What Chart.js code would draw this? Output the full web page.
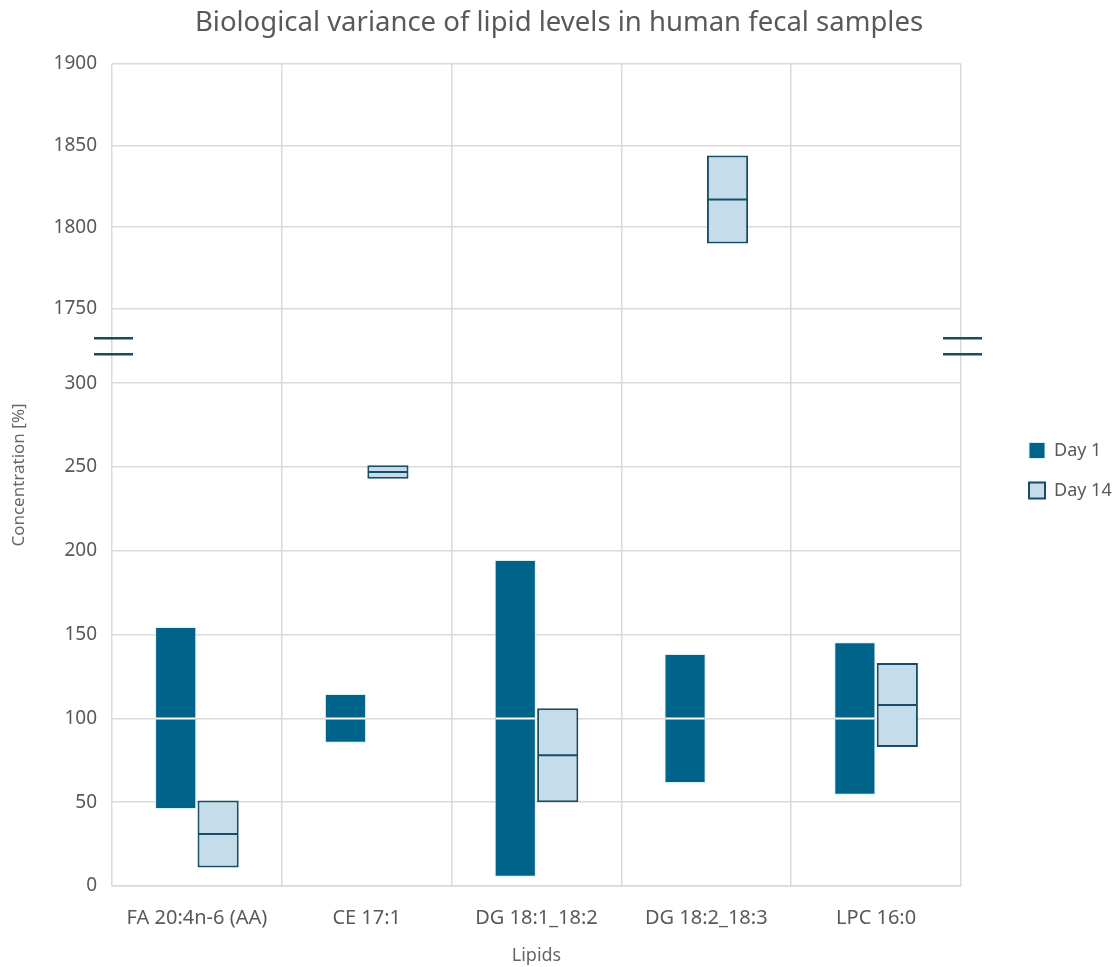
<!DOCTYPE html>
<html>
<head>
<meta charset="utf-8">
<script src="https://cdn.jsdelivr.net/npm/chart.js@4"></script>
<style>
  html, body { margin: 0; padding: 0; background: #fff; }
  #wrap { width: 1118px; height: 967px; }
</style>
</head>
<body>
<div id="wrap"><canvas id="lipidChart" width="1118" height="967"></canvas></div>
<script>
// lipid ranges (min / max / median), concentration in %
const lipids = ['FA 20:4n-6 (AA)', 'CE 17:1', 'DG 18:1_18:2', 'DG 18:2_18:3', 'LPC 16:0'];

const day1Min    = [46, 85.5, 5.5, 61.5, 54.5];
const day1Max    = [154.5, 114.5, 194.5, 138.5, 145.5];
const day1Median = [100, 100, 100, 100, 100];

const day14Min    = [11, 243, 50, 1790, 83];
const day14Max    = [51, 251, 106, 1844, 133];
const day14Median = [31, 247, 78, 1817, 108];

// broken y axis: lower and upper segments
const lowRange  = [0, 322];
const highRange = [1727, 1900];

const DARK  = '#00648a';
const LIGHT = '#c5dcea';
const EDGE  = '#174e66';
const TEXT  = '#595959';
const GRID  = '#dadada';
const FONT  = "'Noto Sans', 'Open Sans', sans-serif";

const inHigh = v => v >= highRange[0];

const day1Data     = lipids.map((_, i) => [day1Min[i], day1Max[i]]);
const day14LowData = lipids.map((_, i) => inHigh(day14Max[i]) ? null : [day14Min[i], day14Max[i]]);
const day14HiData  = lipids.map((_, i) => inHigh(day14Max[i]) ? [day14Min[i], day14Max[i]] : null);

// white / dark median line across each bar
const medianLines = {
  id: 'medianLines',
  afterDatasetsDraw(chart) {
    const ctx = chart.ctx;
    chart.data.datasets.forEach((ds, di) => {
      const meta = chart.getDatasetMeta(di);
      if (!ds.medians || meta.hidden) return;
      meta.data.forEach((bar, i) => {
        if (!ds.data[i]) return;
        const { x, width } = bar.getProps(['x', 'width'], true);
        const y = meta.vScale.getPixelForValue(ds.medians[i]);
        ctx.save();
        ctx.strokeStyle = ds.medianColor;
        ctx.lineWidth = 2;
        ctx.beginPath();
        ctx.moveTo(x - width / 2 + 1, y);
        ctx.lineTo(x + width / 2 - 1, y);
        ctx.stroke();
        ctx.restore();
      });
    });
  }
};

// "=" marks where the axis is broken + shared y title
const axisBreak = {
  id: 'axisBreak',
  afterDraw(chart) {
    const ctx = chart.ctx;
    const area = chart.chartArea;
    const yb = chart.scales.yHigh.bottom;
    ctx.save();
    ctx.strokeStyle = '#174c63';
    ctx.lineWidth = 2.5;
    [area.left, area.right].forEach(x0 => {
      [yb - 8, yb + 8].forEach(y => {
        ctx.beginPath();
        ctx.moveTo(x0 - 18, y);
        ctx.lineTo(x0 + 21, y);
        ctx.stroke();
      });
    });
    ctx.translate(19, (area.top + area.bottom) / 2);
    ctx.rotate(-Math.PI / 2);
    ctx.fillStyle = '#666';
    ctx.font = '17px ' + FONT;
    ctx.textAlign = 'center';
    ctx.textBaseline = 'middle';
    ctx.fillText('Concentration [%]', 0, 0);
    ctx.restore();
  }
};

// legend: fixed width, items pushed right
const legendPlace = {
  id: 'legendPlace',
  beforeInit(chart) {
    const fit = chart.legend.fit;
    chart.legend.fit = function () {
      fit.bind(chart.legend)();
      this.width = 157;
    };
  },
  afterLayout(chart) {
    chart.legend.left += 46;
    chart.legend.top -= 13;
    chart.legend.bottom -= 13;
  }
};

const noComma = v => String(v);

const ctx = document.getElementById('lipidChart').getContext('2d');

new Chart(ctx, {
  type: 'bar',
  data: {
    labels: lipids,
    datasets: [
      {
        label: 'Day 1',
        data: day1Data,
        medians: day1Median,
        medianColor: '#ffffff',
        yAxisID: 'yLow',
        stack: 'd1',
        backgroundColor: DARK,
        borderColor: '#d9eef5',
        borderWidth: 1,
        borderSkipped: false,
      },
      {
        label: 'Day 14',
        data: day14LowData,
        medians: day14Median,
        medianColor: EDGE,
        yAxisID: 'yLow',
        stack: 'd14',
        backgroundColor: LIGHT,
        borderColor: EDGE,
        borderWidth: 2,
        borderSkipped: false,
      },
      {
        label: 'Day 14 (upper)',
        data: day14HiData,
        medians: day14Median,
        medianColor: EDGE,
        yAxisID: 'yHigh',
        stack: 'd14',
        backgroundColor: LIGHT,
        borderColor: EDGE,
        borderWidth: 2,
        borderSkipped: false,
      }
    ]
  },
  options: {
    responsive: false,
    animation: false,
    categoryPercentage: 0.5,
    barPercentage: 0.97,
    layout: { padding: 0 },
    plugins: {
      title: {
        display: true,
        text: 'Biological variance of lipid levels in human fecal samples',
        color: TEXT,
        font: { family: FONT, size: 27.5, weight: 'normal' },
        padding: { top: 7, bottom: 24 }
      },
      legend: {
        position: 'right',
        labels: {
          color: TEXT,
          font: { family: FONT, size: 18 },
          boxWidth: 16,
          boxHeight: 16,
          padding: 22,
          filter: item => item.datasetIndex !== 2
        }
      },
      tooltip: { enabled: false }
    },
    scales: {
      x: {
        grid: { color: GRID, lineWidth: 1.5, drawTicks: false, offset: true },
        border: { color: GRID, width: 1.5 },
        ticks: { color: TEXT, font: { family: FONT, size: 20 }, padding: 20 },
        title: {
          display: true,
          text: 'Lipids',
          color: '#666',
          font: { family: FONT, size: 18 },
          padding: { top: 4, bottom: 0 }
        },
        afterFit: s => { s.height = 81; }
      },
      yLow: {
        type: 'linear',
        position: 'left',
        stack: 'ybreak',
        stackWeight: 539,
        stacked: false,
        min: lowRange[0],
        max: lowRange[1],
        grid: { color: GRID, lineWidth: 1.5, drawTicks: false },
        border: { display: false },
        ticks: { stepSize: 50, includeBounds: false, callback: noComma, color: TEXT, font: { family: FONT, size: 19 }, padding: 15 },
        afterFit: s => { s.width = 112; }
      },
      yHigh: {
        type: 'linear',
        position: 'left',
        stack: 'ybreak',
        stackWeight: 282,
        stacked: false,
        min: highRange[0],
        max: highRange[1],
        grid: { color: GRID, lineWidth: 1.5, drawTicks: false },
        border: { display: false },
        ticks: { stepSize: 50, includeBounds: false, callback: noComma, color: TEXT, font: { family: FONT, size: 19 }, padding: 15 },
        afterFit: s => { s.width = 112; }
      }
    }
  },
  plugins: [medianLines, axisBreak, legendPlace]
});
</script>
</body>
</html>
